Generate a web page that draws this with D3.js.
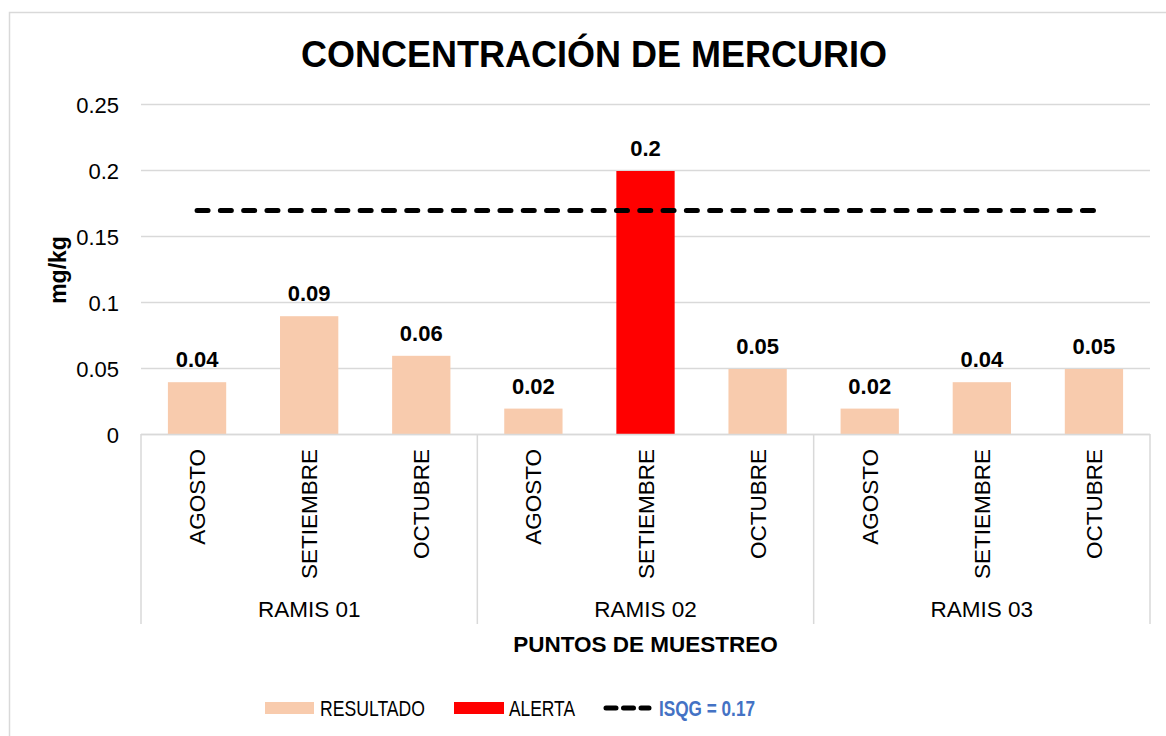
<!DOCTYPE html>
<html>
<head>
<meta charset="utf-8">
<script src="https://cdn.jsdelivr.net/npm/d3@7"></script>
<style>
	body { margin: 0; background: #ffffff; }
	svg { display: block; font-family: Arial, "Liberation Sans", sans-serif; }
</style>
</head>
<body>
<div id="chart"><svg></svg></div>
<script>
var groups = ["RAMIS 01", "RAMIS 02", "RAMIS 03"];
var months = ["AGOSTO", "SETIEMBRE", "OCTUBRE"];
var values = [
	[0.04, 0.09, 0.06],
	[0.02, 0.2, 0.05],
	[0.02, 0.04, 0.05]
];
var alerts = [
	[false, false, false],
	[false, true, false],
	[false, false, false]
];
var yTicks = [0, 0.05, 0.1, 0.15, 0.2, 0.25];
var isqg = 0.17;

var c_width = 1166, c_height = 736;
var p_left = 141, p_right = 1150, p_top = 105, p_bottom = 435;

var data = [];
groups.forEach(function(g, i)
{
	months.forEach(function(m, j)
	{
		data.push({ id: g + "|" + m, group: g, month: m, value: values[i][j], alert: alerts[i][j] });
	});
});

var svg = d3.select("#chart").select("svg")
	.attr("width", c_width)
	.attr("height", c_height);

// outer frame
svg.append("rect")
	.attr("x", 9.5)
	.attr("y", 12.5)
	.attr("width", 1175)
	.attr("height", 740)
	.style("fill", "none")
	.style("stroke", "#d9d9d9")
	.style("stroke-width", 1.5);

var x = d3.scaleBand()
	.domain(data.map(function(d) { return d.id; }))
	.range([p_left, p_right])
	.paddingInner(0.48)
	.paddingOuter(0.24);
var xg = d3.scaleBand()
	.domain(groups)
	.range([p_left, p_right]);
var y = d3.scaleLinear()
	.domain([0, 0.25])
	.range([p_bottom, p_top]);

// gridlines
svg.append("g")
	.selectAll("line")
	.data(yTicks)
	.enter()
	.append("line")
	.attr("x1", p_left)
	.attr("x2", p_right)
	.attr("y1", function(d) { return Math.round(y(d)) - 0.5; })
	.attr("y2", function(d) { return Math.round(y(d)) - 0.5; })
	.style("stroke", "#d9d9d9")
	.style("stroke-width", 1.5);

// y axis labels
var yAxis = d3.axisLeft(y)
	.tickValues(yTicks)
	.tickSize(0)
	.tickPadding(22)
	.tickFormat(function(d) { return String(d); });
var yg = svg.append("g")
	.attr("transform", "translate(" + p_left + ",0)")
	.call(yAxis);
yg.select(".domain").remove();
yg.selectAll("text")
	.style("font-size", "22px")
	.style("fill", "#000")
	.style("font-family", "Arial, 'Liberation Sans', sans-serif");

// bars
svg.append("g")
	.selectAll("rect")
	.data(data)
	.enter()
	.append("rect")
	.attr("x", function(d) { return x(d.id); })
	.attr("y", function(d) { return y(d.value); })
	.attr("width", x.bandwidth())
	.attr("height", function(d) { return p_bottom - y(d.value); })
	.style("fill", function(d) { return d.alert ? "#ff0000" : "#f8cbad"; });

// bar labels
svg.append("g")
	.selectAll("text")
	.data(data)
	.enter()
	.append("text")
	.attr("x", function(d) { return x(d.id) + x.bandwidth() / 2; })
	.attr("y", function(d) { return y(d.value) - 15; })
	.attr("text-anchor", "middle")
	.style("font-size", "22px")
	.style("font-weight", "bold")
	.text(function(d) { return String(d.value); });

// ISQG line
var first = data[0].id, last = data[data.length - 1].id;
svg.append("line")
	.attr("x1", x(first) + x.bandwidth() / 2)
	.attr("x2", x(last) + x.bandwidth() / 2)
	.attr("y1", y(isqg))
	.attr("y2", y(isqg))
	.style("stroke", "#000")
	.style("stroke-width", 5)
	.style("stroke-linecap", "round")
	.style("stroke-dasharray", "11,12.3");

// category axis: baseline and separators
svg.append("line")
	.attr("x1", p_left)
	.attr("x2", p_right)
	.attr("y1", p_bottom - 0.5)
	.attr("y2", p_bottom - 0.5)
	.style("stroke", "#d9d9d9")
	.style("stroke-width", 1.5);
var seps = groups.map(function(g) { return xg(g); }).concat([p_right]);
svg.append("g")
	.selectAll("line")
	.data(seps)
	.enter()
	.append("line")
	.attr("x1", function(d) { return d; })
	.attr("x2", function(d) { return d; })
	.attr("y1", p_bottom - 1)
	.attr("y2", 624)
	.style("stroke", "#d9d9d9")
	.style("stroke-width", 1.5);

// month labels
svg.append("g")
	.selectAll("text")
	.data(data)
	.enter()
	.append("text")
	.attr("transform", function(d) { return "translate(" + (x(d.id) + x.bandwidth() / 2 + 8) + ",449) rotate(-90)"; })
	.attr("text-anchor", "end")
	.style("font-size", "22.5px")
	.text(function(d) { return d.month; });

// group labels
svg.append("g")
	.selectAll("text")
	.data(groups)
	.enter()
	.append("text")
	.attr("x", function(d) { return xg(d) + xg.bandwidth() / 2; })
	.attr("y", 617)
	.attr("text-anchor", "middle")
	.style("font-size", "22.5px")
	.text(function(d) { return d; });

// titles
svg.append("text")
	.attr("x", 594)
	.attr("y", 67)
	.attr("text-anchor", "middle")
	.style("font-size", "36px")
	.style("font-weight", "bold")
	.text("CONCENTRACIÓN DE MERCURIO");
svg.append("text")
	.attr("x", (p_left + p_right) / 2)
	.attr("y", 652)
	.attr("text-anchor", "middle")
	.style("font-size", "22.5px")
	.style("font-weight", "bold")
	.text("PUNTOS DE MUESTREO");
svg.append("text")
	.attr("transform", "translate(66," + ((p_top + p_bottom) / 2) + ") rotate(-90)")
	.attr("text-anchor", "middle")
	.style("font-size", "23px")
	.style("font-weight", "bold")
	.text("mg/kg");

// legend
svg.append("rect")
	.attr("x", 265)
	.attr("y", 702)
	.attr("width", 49)
	.attr("height", 12)
	.style("fill", "#f8cbad");
svg.append("text")
	.attr("x", 320)
	.attr("y", 716)
	.attr("textLength", 105)
	.attr("lengthAdjust", "spacingAndGlyphs")
	.style("font-size", "22px")
	.text("RESULTADO");
svg.append("rect")
	.attr("x", 454)
	.attr("y", 702)
	.attr("width", 50)
	.attr("height", 12)
	.style("fill", "#ff0000");
svg.append("text")
	.attr("x", 509)
	.attr("y", 716)
	.attr("textLength", 66)
	.attr("lengthAdjust", "spacingAndGlyphs")
	.style("font-size", "22px")
	.text("ALERTA");
svg.append("line")
	.attr("x1", 606)
	.attr("x2", 649)
	.attr("y1", 708)
	.attr("y2", 708)
	.style("stroke", "#000")
	.style("stroke-width", 5)
	.style("stroke-linecap", "round")
	.style("stroke-dasharray", "10,7.5");
svg.append("text")
	.attr("x", 659)
	.attr("y", 716)
	.attr("textLength", 96)
	.attr("lengthAdjust", "spacingAndGlyphs")
	.style("font-size", "22px")
	.style("font-weight", "bold")
	.style("fill", "#4472c4")
	.text("ISQG = 0.17");
</script>
</body>
</html>
